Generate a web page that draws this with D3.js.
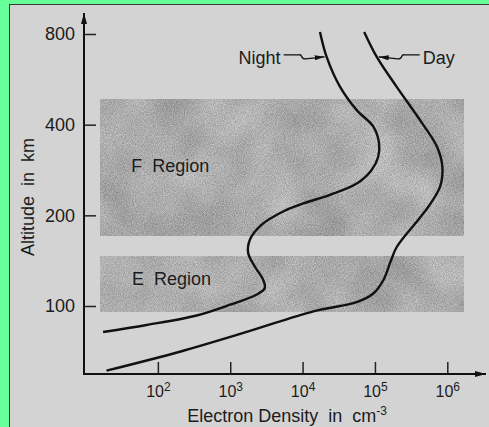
<!DOCTYPE html>
<html>
<head>
<meta charset="utf-8">
<script src="https://cdn.jsdelivr.net/npm/d3@7"></script>
<style>
  html, body { margin: 0; padding: 0; background: #66ff99; overflow: hidden; }
  svg { display: block; }
  text { font-family: "Liberation Sans", Arial, sans-serif; fill: #1c1c1c; white-space: pre; }
</style>
</head>
<body>
<div id="chart"></div>
<script>
// electron density profiles (cm^-3) against altitude (km)
const nightDensity = [1.74e4, 2.15e4, 3.3e4, 5.6e4, 9.5e4, 1.14e5, 1.11e5, 9.0e4, 5.6e4, 2.4e4, 1.02e4, 5.4e3, 2.7e3, 1.87e3, 1.77e3, 2.2e3, 2.86e3, 3.0e3, 2.3e3, 1.0e3, 343, 70, 17.5];
const nightAltitude = [813, 672, 534, 447, 394, 347, 313, 283, 255, 234, 219, 206, 186, 166, 150, 135, 122, 114.5, 109, 101, 93, 86.5, 82];
const dayDensity = [7.1e4, 1.06e5, 2.0e5, 4.2e5, 7.2e5, 8.55e5, 7.95e5, 5.5e5, 3.95e5, 2.0e5, 1.62e5, 1.31e5, 9.5e4, 5.6e4, 1.41e4, 1.69e3, 201, 19.5];
const dayAltitude = [813, 672, 534, 414, 338, 290, 249, 214, 193, 157, 139, 122, 110, 103, 96, 82, 70.5, 61];

// tick labels
const yTickValues = [100, 200, 400, 800];
const xTickExponents = [2, 3, 4, 5, 6];

// shaded ionospheric regions
const regionNames = ["F  Region", "E  Region"];
const regionBottom = [172, 96];
const regionTop = [485, 146];
const regionDensitySpan = [16, 1.7e6];
const regionLabelDensity = [43, 44];
const regionLabelAltitude = [279, 117];

// curve annotations
const curveNames = ["Night", "Day"];
const curveLabelAltitude = 672;

const width = 489, height = 427;
const originX = 84, originY = 374;   // axis corner
const yAxisTop = 13, xAxisRight = 486;

const x = d3.scaleLog().domain([10, 1e6]).range([85.5, 447.3]);
const y = d3.scaleLog().domain([100, 800]).range([306, 34]);

const svg = d3.select("#chart")
    .append("svg")
    .attr("width", width)
    .attr("height", height);

const defs = svg.append("defs");

// mottled, dithered grey like the printed screen
const filter = defs.append("filter")
    .attr("id", "stipple")
    .attr("x", 0).attr("y", 0).attr("width", 1).attr("height", 1)
    .attr("color-interpolation-filters", "sRGB");
filter.append("feTurbulence")
    .attr("type", "fractalNoise").attr("baseFrequency", 0.02)
    .attr("numOctaves", 2).attr("seed", 7).attr("result", "blotchRaw");
filter.append("feColorMatrix")
    .attr("in", "blotchRaw").attr("type", "matrix")
    .attr("values", "1 0 0 0 0  1 0 0 0 0  1 0 0 0 0  0 0 0 0 1")
    .attr("result", "blotch");
filter.append("feTurbulence")
    .attr("type", "fractalNoise").attr("baseFrequency", 1.1)
    .attr("numOctaves", 1).attr("seed", 3).attr("result", "grainRaw");
filter.append("feColorMatrix")
    .attr("in", "grainRaw").attr("type", "matrix")
    .attr("values", "1 0 0 0 0  1 0 0 0 0  1 0 0 0 0  0 0 0 0 1")
    .attr("result", "grain");
filter.append("feComposite")
    .attr("in", "blotch").attr("in2", "grain")
    .attr("operator", "arithmetic")
    .attr("k1", 0).attr("k2", 0.4).attr("k3", 0.6).attr("k4", 0)
    .attr("result", "mix");
filter.append("feColorMatrix")
    .attr("in", "mix").attr("type", "matrix")
    .attr("values", "0.6 0 0 0 0.37  0.6 0 0 0 0.37  0.6 0 0 0 0.37  0 0 0 0 1");

// arrow heads
defs.append("marker")
    .attr("id", "axisArrow")
    .attr("viewBox", "0 -3 11 6")
    .attr("refX", 11).attr("refY", 0)
    .attr("markerWidth", 11).attr("markerHeight", 6)
    .attr("markerUnits", "userSpaceOnUse")
    .attr("orient", "auto")
    .append("path")
    .attr("d", "M0,-3L11,0L0,3Z")
    .attr("fill", "#111");

defs.append("marker")
    .attr("id", "pointer")
    .attr("viewBox", "0 -2.5 10 5")
    .attr("refX", 10).attr("refY", 0)
    .attr("markerWidth", 10).attr("markerHeight", 5)
    .attr("markerUnits", "userSpaceOnUse")
    .attr("orient", "auto")
    .append("path")
    .attr("d", "M0,-2.5L10,0L0,2.5Z")
    .attr("fill", "#111");

// paper
svg.append("rect")
    .attr("x", 9.5).attr("y", 4.5)
    .attr("width", width).attr("height", height)
    .attr("fill", "#d3d3d3")
    .attr("stroke", "#3a3a3a")
    .attr("stroke-width", 1);

// region bands
const regions = regionNames.map((name, i) => ({
    name: name,
    bottom: regionBottom[i],
    top: regionTop[i],
    labelX: regionLabelDensity[i],
    labelY: regionLabelAltitude[i]
}));

svg.append("g")
    .selectAll("rect")
    .data(regions)
    .enter()
    .append("rect")
    .attr("x", x(regionDensitySpan[0]))
    .attr("width", x(regionDensitySpan[1]) - x(regionDensitySpan[0]))
    .attr("y", d => y(d.top))
    .attr("height", d => y(d.bottom) - y(d.top))
    .attr("fill", "#aaa")
    .attr("filter", "url(#stipple)");

svg.append("g")
    .selectAll("text")
    .data(regions)
    .enter()
    .append("text")
    .attr("x", d => x(d.labelX))
    .attr("y", d => y(d.labelY))
    .attr("font-size", 18)
    .text(d => d.name);

// axes
const yAxis = d3.axisLeft(y)
    .tickValues(yTickValues)
    .tickSizeInner(-12)
    .tickSizeOuter(0)
    .tickPadding(9)
    .tickFormat(d3.format("d"));

svg.append("g")
    .attr("transform", `translate(${originX},0)`)
    .call(yAxis)
    .call(g => g.select(".domain").remove())
    .call(g => g.selectAll(".tick line").attr("stroke", "#222").attr("stroke-width", 1.5))
    .call(g => g.selectAll(".tick text").attr("font-size", 18).attr("fill", "#1c1c1c"))
    .attr("font-size", null)
    .attr("font-family", null);

const xAxis = d3.axisBottom(x)
    .tickValues(xTickExponents.map(e => Math.pow(10, e)))
    .tickSizeInner(-12)
    .tickSizeOuter(0)
    .tickPadding(12)
    .tickFormat("");

svg.append("g")
    .attr("transform", `translate(0,${originY})`)
    .call(xAxis)
    .call(g => g.select(".domain").remove())
    .call(g => g.selectAll(".tick line").attr("stroke", "#222").attr("stroke-width", 1.5))
    .call(g => g.selectAll(".tick text").each(function(d) {
        const t = d3.select(this).attr("font-size", 16).attr("fill", "#1c1c1c");
        t.append("tspan").text("10");
        t.append("tspan")
            .attr("font-size", 12)
            .attr("dy", "-0.5em")
            .text(Math.round(Math.log10(d)));
    }))
    .attr("font-size", null)
    .attr("font-family", null);

svg.append("line")
    .attr("x1", originX).attr("y1", originY + 1)
    .attr("x2", originX).attr("y2", yAxisTop)
    .attr("stroke", "#111").attr("stroke-width", 2)
    .attr("marker-end", "url(#axisArrow)");

svg.append("line")
    .attr("x1", originX - 1).attr("y1", originY)
    .attr("x2", xAxisRight).attr("y2", originY)
    .attr("stroke", "#111").attr("stroke-width", 2)
    .attr("marker-end", "url(#axisArrow)");

// axis titles
svg.append("text")
    .attr("transform", "translate(28,197) rotate(-90)")
    .attr("text-anchor", "middle")
    .attr("dy", "0.35em")
    .attr("font-size", 18)
    .text("Altitude  in  km");

const xTitle = svg.append("text")
    .attr("x", 287)
    .attr("y", 422)
    .attr("text-anchor", "middle")
    .attr("font-size", 18);
xTitle.append("tspan").text("Electron Density  in  cm");
xTitle.append("tspan").attr("font-size", 12).attr("dy", "-0.6em").text("-3");

// profiles
const profiles = [
    { name: curveNames[0], points: nightDensity.map((n, i) => [n, nightAltitude[i]]) },
    { name: curveNames[1], points: dayDensity.map((n, i) => [n, dayAltitude[i]]) }
];

const line = d3.line()
    .x(d => x(d[0]))
    .y(d => y(d[1]))
    .curve(d3.curveCatmullRom.alpha(0.5));

svg.append("g")
    .selectAll("path")
    .data(profiles)
    .enter()
    .append("path")
    .attr("d", d => line(d.points))
    .attr("fill", "none")
    .attr("stroke", "#111")
    .attr("stroke-width", 2.4)
    .attr("stroke-linejoin", "round");

// squiggly labels pointing at each curve
profiles.forEach((p, i) => {
    const hit = p.points.find(d => d[1] === curveLabelAltitude);
    const tx = x(hit[0]);
    const ty = y(hit[1]);
    const s = i === 0 ? -1 : 1;   // night label sits left, day label right
    const tip = tx + s * 2;

    svg.append("path")
        .attr("d", `M${tx + s * 43},${ty - 2} H${tx + s * 28}`
            + ` C${tx + s * 23},${ty - 3} ${tx + s * 27},${ty + 2.5} ${tx + s * 21},${ty + 2}`
            + ` L${tip},${ty}`)
        .attr("fill", "none")
        .attr("stroke", "#111")
        .attr("stroke-width", 1.3)
        .attr("marker-end", "url(#pointer)");

    svg.append("text")
        .attr("x", tx + s * 46)
        .attr("y", ty + 7)
        .attr("text-anchor", i === 0 ? "end" : "start")
        .attr("font-size", 18)
        .text(p.name);
});
</script>
</body>
</html>
